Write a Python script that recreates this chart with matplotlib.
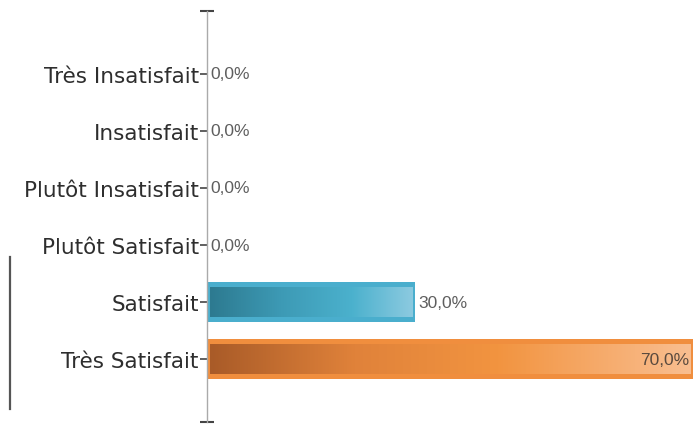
import matplotlib
matplotlib.use("Agg")
import matplotlib.pyplot as plt
import numpy as np
from matplotlib.colors import LinearSegmentedColormap
from matplotlib.patches import Rectangle
from matplotlib.lines import Line2D

categories = ["Très Insatisfait", "Insatisfait", "Plutôt Insatisfait",
              "Plutôt Satisfait", "Satisfait", "Très Satisfait"]
values = [0.0, 0.0, 0.0, 0.0, 30.0, 70.0]

border_colors = {4: "#4aaecd", 5: "#f08e3e"}
grad_colors = {
    4: [(0.0, "#2d7a90"), (0.35, "#3d9ab5"), (0.7, "#4bb1cd"), (1.0, "#8ccae0")],
    5: [(0.0, "#a95b28"), (0.3, "#e0823a"), (0.6, "#f29440"), (1.0, "#f9be90")],
}

fig = plt.figure(figsize=(6.94, 4.27), dpi=100)
ax = fig.add_axes([207 / 694, 1 - 423 / 427, 1 - 207 / 694, 411 / 427])

y = np.arange(len(categories))
h = 0.7

for i, v in enumerate(values):
    if v <= 0:
        continue
    cmap = LinearSegmentedColormap.from_list("g%d" % i, grad_colors[i])
    grad = np.linspace(0, 1, 256).reshape(1, -1)
    ax.add_patch(Rectangle((0, y[i] - h / 2), v, h, facecolor=border_colors[i],
                           edgecolor="none", zorder=2))
    inset_x = 0.45
    inset_y = 0.09
    ax.imshow(grad, cmap=cmap, aspect="auto",
              extent=(inset_x, v - inset_x, y[i] + h / 2 - inset_y, y[i] - h / 2 + inset_y),
              zorder=3, interpolation="bicubic")

ax.set_xlim(0, 70.1)
ax.set_ylim(6.1, -1.1)

for i, v in enumerate(values):
    txt = ("%.1f%%" % v).replace(".", ",")
    if v >= 60:
        ax.text(v - 0.6, y[i], txt, ha="right", va="center", fontsize=12.5,
                family="Liberation Sans", color="#5a4a3e", zorder=5)
    else:
        ax.text(v + 0.45, y[i], txt, ha="left", va="center", fontsize=12.5,
                family="Liberation Sans", color="#5e5e5e", zorder=5)

ax.set_yticks(y)
ax.set_yticklabels(categories, fontsize=15.5, color="#2e2e2e", family="DejaVu Sans")
ax.tick_params(axis="y", length=5, width=1.2, color="#444444", pad=1)
ax.set_yticks([-1.1, 6.1], minor=True)
ax.tick_params(axis="y", which="minor", length=10, width=1.5, direction="inout", color="#444444")
ax.set_xticks([])
for s in ["top", "right", "bottom"]:
    ax.spines[s].set_visible(False)
ax.spines["left"].set_color("#aaaaaa")
ax.spines["left"].set_linewidth(1)
ax.set_facecolor("white")

fig.add_artist(Line2D([10 / 694, 10 / 694], [1 - 258 / 427, 1 - 410 / 427],
                      transform=fig.transFigure, color="#555555", linewidth=1.6))

fig.savefig("out.png", dpi=100, facecolor="white")
